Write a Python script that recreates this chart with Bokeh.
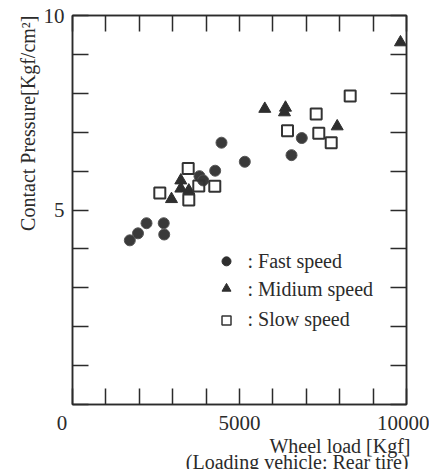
from bokeh.plotting import figure
from bokeh.models import LinearAxis, FixedTicker, Label, Title
from bokeh.embed import file_html
from bokeh.resources import INLINE

# ---- data ----
fast_x = [1716, 1961, 2216, 2731, 2746, 3802, 3913, 4272, 4461, 5159, 6557, 6865]
fast_y = [4.22, 4.40, 4.66, 4.66, 4.37, 5.87, 5.76, 6.01, 6.73, 6.24, 6.41, 6.85]

mid_x = [9820, 5757, 6377, 6347, 7925, 3243, 3243, 3482, 2964]
mid_y = [9.31, 7.60, 7.63, 7.51, 7.15, 5.76, 5.55, 5.50, 5.28]

slow_x = [8314, 7296, 6437, 7374, 7746, 3464, 2614, 3781, 4260, 3482]
slow_y = [7.93, 7.47, 7.04, 6.97, 6.73, 6.07, 5.44, 5.62, 5.61, 5.26]

legend_labels = [": Fast speed", ": Midium speed", ": Slow speed"]
x_ticks = list(range(0, 10001, 1000))
y_ticks = list(range(0, 11))
x_tick_labels = {0: "0\u00a0\u00a0\u00a0\u00a0", 5000: "5000", 10000: "10000"}
y_tick_labels = {5: "5", 10: "10"}
x_title = "Wheel load [Kgf]"
x_subtitle = "(Loading vehicle: Rear tire)"
y_title = "Contact Pressure[Kgf/cm\u00b2]"

FONT = "Liberation Serif"
INK = "#2b2b2b"

p = figure(width=429, height=469, frame_width=334, frame_height=389,
           x_range=(0, 10000), y_range=(0, 10),
           min_border_left=72, min_border_right=23, min_border_top=15, min_border_bottom=20,
           output_backend="svg", toolbar_location=None,
           background_fill_color="white", border_fill_color="white")
p.grid.visible = False
p.outline_line_color = INK
p.outline_line_width = 1.5

def style_axis(ax, labels, ticks, show_labels=True):
    ax.ticker = FixedTicker(ticks=ticks)
    ax.major_tick_in = 16
    ax.major_tick_out = 0
    ax.minor_tick_line_color = None
    ax.major_tick_line_color = INK
    ax.major_tick_line_width = 1.5
    ax.axis_line_color = INK
    ax.axis_line_width = 1.5
    ax.major_label_text_font = FONT
    ax.major_label_text_color = INK
    if show_labels:
        ax.major_label_text_font_size = "21px"
        ax.major_label_overrides = {t: labels.get(t, "") for t in ticks}
    else:
        ax.major_label_text_font_size = "0px"
        ax.major_label_overrides = {t: "" for t in ticks}
        ax.major_label_standoff = 0

style_axis(p.xaxis[0], x_tick_labels, x_ticks)
p.xaxis[0].major_label_standoff = 6
style_axis(p.yaxis[0], y_tick_labels, y_ticks)
p.yaxis[0].major_label_standoff = 8

top = LinearAxis()
style_axis(top, {}, x_ticks, show_labels=False)
p.add_layout(top, "above")
right = LinearAxis()
style_axis(right, {}, y_ticks, show_labels=False)
p.add_layout(right, "right")

# ---- axis titles ----
p.add_layout(Title(text=x_title, align="right", text_font=FONT, text_font_size="20px",
                   text_font_style="normal", text_color=INK,
                   standoff=-10, offset=-4), "below")
p.add_layout(Title(text=x_subtitle, align="right", text_font=FONT, text_font_size="20px",
                   text_font_style="normal", text_color=INK,
                   standoff=-6, offset=-2), "below")
p.add_layout(Title(text=y_title, align="right", text_font=FONT, text_font_size="20px",
                   text_font_style="normal", text_color=INK, standoff=4), "left")

# ---- points ----
p.scatter(fast_x, fast_y, marker="circle", size=11, fill_color="#3a3a3a",
          line_color="#555555", line_width=1)
p.scatter(mid_x, mid_y, marker="triangle", size=12, fill_color="#2e2e2e",
          line_color="#2e2e2e", line_width=1)
p.scatter(slow_x, slow_y, marker="square", size=11, fill_color=None,
          line_color="#333333", line_width=2)

# ---- legend drawn inside the frame ----
leg_x = 4611
leg_tx = 5240
leg_y = [3.68, 2.98, 2.21]
markers = ["circle", "triangle", "square"]
for i, (m, lab) in enumerate(zip(markers, legend_labels)):
    if m == "square":
        p.scatter([leg_x], [leg_y[i] - 0.05], marker=m, size=9, fill_color=None,
                  line_color="#333333", line_width=1.5)
    else:
        p.scatter([leg_x], [leg_y[i]], marker=m, size=9, fill_color="#2e2e2e",
                  line_color="#2e2e2e")
    p.add_layout(Label(x=leg_tx, y=leg_y[i], text=lab, text_font=FONT,
                       text_font_size="20px", text_color=INK,
                       text_baseline="middle", text_align="left"))

open("out.html", "w").write(file_html(p, INLINE))
